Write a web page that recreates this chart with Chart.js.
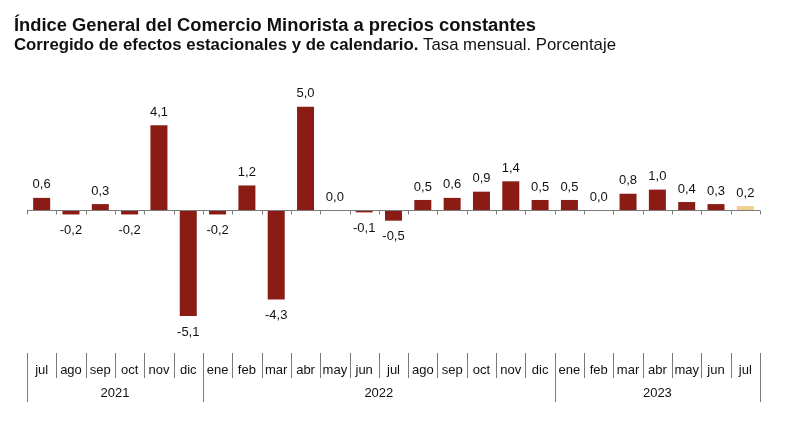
<!DOCTYPE html>
<html>
<head>
<meta charset="utf-8">
<style>
  html, body { margin: 0; padding: 0; background: #fff; }
  #wrap { width: 800px; height: 442px; position: relative; }
</style>
<script src="https://cdn.jsdelivr.net/npm/chart.js@4"></script>
</head>
<body>
<div id="wrap"><canvas id="chart" width="800" height="442"></canvas></div>
<script>
// data
var months = ['jul','ago','sep','oct','nov','dic',
              'ene','feb','mar','abr','may','jun','jul','ago','sep','oct','nov','dic',
              'ene','feb','mar','abr','may','jun','jul'];
var values = [0.6, -0.2, 0.3, -0.2, 4.1, -5.1,
              -0.2, 1.2, -4.3, 5.0, 0.0, -0.1, -0.5, 0.5, 0.6, 0.9, 1.4, 0.5,
              0.5, 0.0, 0.8, 1.0, 0.4, 0.3, 0.2];
var years = ['2021', '2022', '2023'];
var yearSpans = [6, 12, 7];

var titleText = 'Índice General del Comercio Minorista a precios constantes';
var subBold = 'Corregido de efectos estacionales y de calendario.';
var subRegular = ' Tasa mensual. Porcentaje';

var FONT = '"Liberation Sans", Arial, Helvetica, sans-serif';
var barColor = '#8b1b15';
var lastColor = '#f1cd8e';
var lineColor = '#7a7a7a';
var textColor = '#111';

var colors = values.map(function(v, i) { return i === values.length - 1 ? lastColor : barColor; });

function fmt(v) { return v.toFixed(1).replace('.', ','); }

var decorPlugin = {
    id: 'decor',
    afterDatasetsDraw: function(chart) {
        var ctx = chart.ctx;
        var x = chart.scales.x, y = chart.scales.y;
        var area = chart.chartArea;
        var zero = Math.round(y.getPixelForValue(0)) + 0.5;
        var step = x.getPixelForValue(1) - x.getPixelForValue(0);
        var left = x.getPixelForValue(0) - step / 2;
        ctx.save();

        // zero line with ticks hanging below
        ctx.strokeStyle = lineColor;
        ctx.lineWidth = 1;
        ctx.beginPath();
        ctx.moveTo(left, zero);
        ctx.lineTo(left + step * months.length, zero);
        for (var i = 0; i <= months.length; i++) {
            var bx = Math.round(left + step * i) + 0.5;
            ctx.moveTo(bx, zero);
            ctx.lineTo(bx, zero + 4);
        }
        ctx.stroke();

        // value labels
        ctx.fillStyle = textColor;
        ctx.font = '13px ' + FONT;
        ctx.textAlign = 'center';
        ctx.textBaseline = 'middle';
        var meta = chart.getDatasetMeta(0);
        meta.data.forEach(function(bar, i) {
            var v = values[i];
            if (v >= 0) ctx.fillText(fmt(v), bar.x, y.getPixelForValue(v) - 13);
            else ctx.fillText(fmt(v), bar.x, y.getPixelForValue(v) + 16);
        });

        // category table
        var rowTop = 353, rowBot = 378, yearBot = 402;
        ctx.beginPath();
        var yearEdges = [0];
        yearSpans.forEach(function(n) { yearEdges.push(yearEdges[yearEdges.length - 1] + n); });
        for (var j = 0; j <= months.length; j++) {
            var sx = Math.round(left + step * j) + 0.5;
            var tall = yearEdges.indexOf(j) >= 0;
            ctx.moveTo(sx, rowTop);
            ctx.lineTo(sx, tall ? yearBot : rowBot);
        }
        ctx.stroke();

        ctx.fillStyle = textColor;
        ctx.font = '13px ' + FONT;
        months.forEach(function(m, k) {
            ctx.fillText(m, x.getPixelForValue(k), 370);
        });
        years.forEach(function(yr, k) {
            var a = left + step * yearEdges[k];
            var b = left + step * yearEdges[k + 1];
            ctx.fillText(yr, (a + b) / 2, 393);
        });

        // titles
        ctx.textAlign = 'left';
        ctx.textBaseline = 'alphabetic';
        ctx.font = 'bold 18px ' + FONT;
        var tw = ctx.measureText(titleText).width;
        var ts = 18 * 522 / tw;
        ctx.font = 'bold ' + ts.toFixed(2) + 'px ' + FONT;
        ctx.fillText(titleText, 14, 31);

        ctx.font = 'bold 15px ' + FONT;
        var w1 = ctx.measureText(subBold).width;
        ctx.font = '15px ' + FONT;
        var w2 = ctx.measureText(subRegular).width;
        var ss = 15 * 602 / (w1 + w2);
        ctx.font = 'bold ' + ss.toFixed(2) + 'px ' + FONT;
        ctx.fillText(subBold, 14, 50);
        var bw = ctx.measureText(subBold).width;
        ctx.font = ss.toFixed(2) + 'px ' + FONT;
        ctx.fillText(subRegular, 14 + bw, 50);

        ctx.restore();
    }
};

new Chart(document.getElementById('chart'), {
    type: 'bar',
    data: {
        labels: months.map(function(m, i) { return m + i; }),
        datasets: [{
            data: values,
            backgroundColor: colors,
            borderWidth: 0,
            categoryPercentage: 1,
            barPercentage: 0.58
        }]
    },
    options: {
        responsive: false,
        animation: false,
        layout: { padding: { left: 27, right: 40, top: 86, bottom: 97 } },
        plugins: { legend: { display: false }, tooltip: { enabled: false } },
        scales: {
            x: { display: false },
            y: { display: false, min: -6.5, max: 6 }
        }
    },
    plugins: [decorPlugin]
});
</script>
</body>
</html>
